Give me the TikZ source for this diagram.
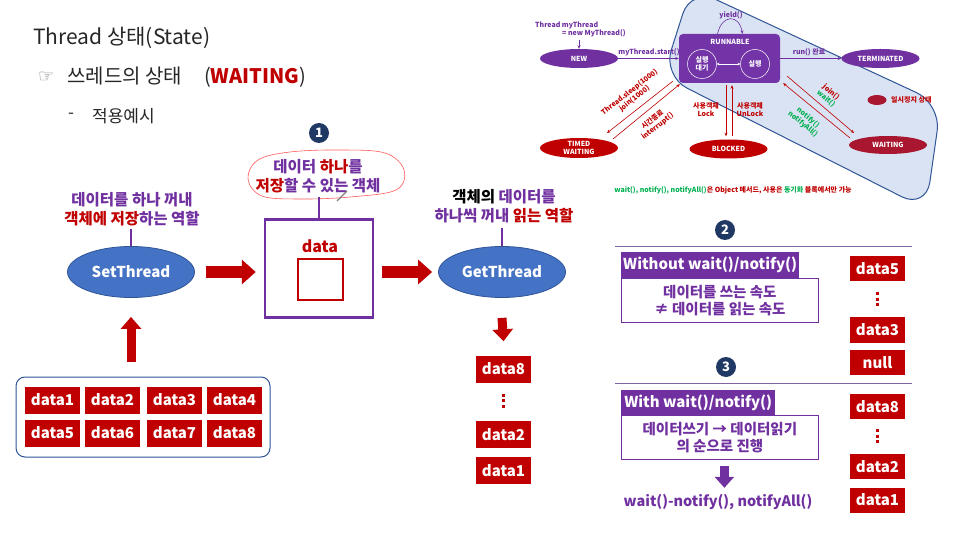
\documentclass[tikz,border=0pt]{standalone}
\usepackage{fontspec}
\setmainfont{Noto Sans CJK KR}
\newfontfamily\symfont{DejaVu Sans}
\usetikzlibrary{arrows.meta,shapes.geometric,calc}
\definecolor{pur}{HTML}{7030A0}
\definecolor{dred}{HTML}{C00000}
\definecolor{navy}{HTML}{203864}
\definecolor{eblue}{HTML}{4472C4}
\definecolor{eblueb}{HTML}{2F5597}
\definecolor{lblue}{HTML}{DAE3F3}
\definecolor{wred}{HTML}{A8172F}
\definecolor{grn}{HTML}{00B050}
\definecolor{tgray}{HTML}{262626}
\definecolor{rulec}{HTML}{8064A2}
\definecolor{runp}{HTML}{7334A8}
\definecolor{pinkline}{HTML}{FF5B5B}
\newcommand\fsz[2]{\fontsize{#1}{#2}\selectfont}
\tikzset{
  badge/.style={circle, fill=navy, text=white, font=\bfseries\fsz{13}{13}, inner sep=0pt, minimum size=20pt},
  cell/.style={fill=dred, text=white, font=\bfseries\fsz{15}{15}, minimum width=55pt, minimum height=27pt, inner sep=0pt},
  rcell/.style={cell, minimum height=25pt},
  thr/.style={ellipse, fill=eblue, draw=eblueb, line width=0.8pt, text=white, font=\bfseries\fsz{15}{15}, minimum width=127pt, minimum height=51pt, inner sep=0pt},
  bigarrow/.style={dred, line width=12.5pt, -{Triangle[length=14pt,width=24pt]}},
  smallarrow/.style={dred, line width=9pt, -{Triangle[length=12pt,width=20pt]}},
  purarrow/.style={pur, line width=9pt, -{Triangle[length=11pt,width=19pt]}},
  lbl/.style={font=\bfseries\fsz{15.5}{19}, align=center, text=pur},
  stem/.style={pur, line width=2.2pt},
  vdot/.style={dred, line width=2.2pt, dash pattern=on 3pt off 2.5pt},
  hdr/.style={fill=pur, text=white, font=\bfseries\fsz{15}{15}, minimum height=26pt, inner sep=0pt, anchor=north west},
  expl/.style={draw=pur, line width=0.8pt, text=pur, font=\bfseries\fsz{14.5}{17.5}, align=center, minimum width=197pt, minimum height=44pt, inner sep=0pt, anchor=north west},
  rulel/.style={rulec, line width=0.8pt},
  st/.style={ellipse, minimum width=78pt, minimum height=19pt, inner sep=0pt, text=white, font=\bfseries\fsz{7}{7.5}, align=center},
  smtxt/.style={font=\bfseries\fsz{7}{8}, align=center, inner sep=1pt},
  sarrow/.style={line width=0.6pt, -{Stealth[length=3.5pt,width=3pt]}},
}
\begin{document}
\begin{tikzpicture}[x=1pt,y=-1pt]
\useasboundingbox (0,0) rectangle (961,537);
\fill[white] (0,0) rectangle (961,537);

% ---------- headings
\node[anchor=west, font=\fsz{21}{24}, text=tgray, inner sep=0] (title) at (33,38) {Thread 상태(State)};
\node[anchor=west, font=\symfont\fsz{18}{20}, text=gray, inner sep=0] (hand) at (38,77) {☞};
\node[anchor=west, font=\fsz{20}{24}, text=tgray, inner sep=0] (sub) at (67,77) {쓰레드의 상태\hspace{1.1em}(\textcolor{dred}{\bfseries WAITING})};
\node[anchor=west, font=\fsz{17}{20}, text=tgray, inner sep=0] (dash) at (68,116) {-};
\node[anchor=west, font=\fsz{17}{20}, text=tgray, inner sep=0] (ex) at (92,116) {적용예시};

% ---------- middle object
\node[badge] (b1) at (319,133) {1};
\node[lbl] (obj) at (318,176) {데이터 \textcolor{dred}{하나}를\\\textcolor{dred}{저장}할 수 있는 객체};
\draw[pinkline, line width=0.6pt] plot[smooth cycle, tension=0.6] coordinates {(248,179) (258,160) (290,152) (340,150) (385,153) (404,170) (396,190) (350,197) (300,199) (262,196)};
\draw[gray, line width=1.3pt] (337,201) -- (347,191);
\node[draw=pur, line width=2.5pt, minimum width=108pt, minimum height=98pt, inner sep=0] (box) at (319,268.5) {};
\node[text=dred, font=\bfseries\fsz{16}{16}] (dlab) at (320,246) {data};
\node[draw=dred, line width=2pt, minimum width=45pt, minimum height=41pt, inner sep=0] (slot) at (320,280) {};
\coordinate (objfoot) at (319,197);
\draw[stem] (box.north |- objfoot) -- (box.north);

% ---------- threads
\node[thr] (set) at (131,272) {SetThread};
\node[thr] (get) at (502,272) {GetThread};
\node[lbl] (setl) at (132,209) {데이터를 하나 꺼내\\\textcolor{dred}{객체에 저장}하는 역할};
\node[lbl] (getl) at (504,206.5) {\textcolor{black}{객체의} 데이터를\\하나씩 꺼내 \textcolor{dred}{읽는 역할}};
\coordinate (setfoot) at (132,229);
\coordinate (getfoot) at (502,228);
\draw[stem] (set.north |- setfoot) -- (set.north);
\draw[stem] (get.north |- getfoot) -- (get.north);
\draw[bigarrow] ($(set.east)+(11,0)$) -- ($(set.east -| box.west)+(-8,0)$);
\draw[bigarrow] ($(get.west -| box.east)+(8,0)$) -- ($(get.west)+(-6,0)$);

% ---------- data pool
\node[draw=eblueb, line width=1pt, rounded corners=9pt, minimum width=254pt, minimum height=80pt, inner sep=0] (pool) at (143,417) {};
\node[cell] (c1) at (52.5,400) {data1};
\node[cell] (c2) at (112.5,400) {data2};
\node[cell] (c3) at (174.5,400) {data3};
\node[cell] (c4) at (234.5,400) {data4};
\node[cell] (c5) at (52.5,433) {data5};
\node[cell] (c6) at (112.5,433) {data6};
\node[cell] (c7) at (174.5,433) {data7};
\node[cell] (c8) at (234.5,433) {data8};
\draw[smallarrow] ($(set.south |- pool.north)+(0,-15)$) -- ($(set.south)+(0,19)$);

% ---------- output of GetThread
\node[cell] (g8) at (503.5,369) {data8};
\node[cell] (g2) at (503.5,434.5) {data2};
\node[cell] (g1) at (503.5,470.5) {data1};
\draw[smallarrow] ($(get.south)+(0,20)$) -- ($(g8.north)+(0,-14)$);
\draw[vdot] ($(g8.south)+(0,11)$) -- ($(g2.north)+(0,-12)$);

% ---------- case 2
\node[badge] (b2) at (725,230) {2};
\coordinate (r2a) at (615,246); \coordinate (r2b) at (912,246);
\draw[rulel] (r2a) -- (r2b);
\node[hdr, minimum width=178pt] (h2) at (621,252) {Without wait()/notify()};
\node[expl] (e2) at (621,278) {데이터를 쓰는 속도\\≠ 데이터를 읽는 속도};
\node[rcell] (r5) at (877.5,268.5) {data5};
\node[rcell] (r3) at (877.5,330) {data3};
\node[rcell] (rn) at (877.5,362.5) {null};
\draw[vdot] ($(r5.south)+(0,11)$) -- ($(r3.north)+(0,-11)$);

% ---------- case 3
\node[badge] (b3) at (726,367) {3};
\coordinate (r3a) at (615,383); \coordinate (r3b) at (912,383);
\draw[rulel] (r3a) -- (r3b);
\node[hdr, minimum width=154pt, minimum height=25pt] (h3) at (621,390) {With wait()/notify()};
\node[expl] (e3) at (621,415) {데이터쓰기 → 데이터읽기\\의 순으로 진행};
\node[text=pur, font=\bfseries\fsz{14.5}{14.5}] (wn) at (718,502) {wait()-notify(), notifyAll()};
\draw[purarrow] ($(e3.south)+(4.5,6)$) -- ($(e3.south)+(4.5,28)$);
\node[rcell] (s8) at (877.5,406.5) {data8};
\node[rcell] (s2) at (877.5,466.5) {data2};
\node[rcell] (s1) at (877.5,500) {data1};
\draw[vdot] ($(s8.south)+(0,10)$) -- ($(s2.north)+(0,-10)$);

% ---------- state diagram
\draw[draw=eblueb, fill=lblue, line width=1pt, rounded corners=27pt] (691,-12) -- (941,104) -- (926,209) -- (663,76) -- cycle;
\node[st, fill=pur] (new) at (579,58.5) {NEW};
\node[st, fill=pur] (term) at (880.5,58.5) {TERMINATED};
\node[st, fill=dred, minimum height=20pt] (timed) at (579,148) {TIMED\\WAITING};
\node[st, fill=dred] (blk) at (728.5,149) {BLOCKED};
\node[st, fill=wred, minimum height=18pt] (wt) at (888,145) {WAITING};
\node[fill=runp, rounded corners=4pt, minimum width=101pt, minimum height=49pt, inner sep=0] (run) at (729.5,58.5) {};
\node[text=white, smtxt] (runl) at (730,42) {RUNNABLE};
\node[circle, draw=white, line width=0.5pt, minimum size=29pt, inner sep=0, text=white, smtxt] (rw) at (702,64) {실행\\대기};
\node[circle, draw=white, line width=0.5pt, minimum size=29pt, inner sep=0, text=white, smtxt] (rx) at (755,64) {실행};
\draw[white, line width=0.4pt, {Stealth[length=2.5pt,width=2.5pt]}-{Stealth[length=2.5pt,width=2.5pt]}] (rw) -- (rx);

\node[anchor=west, text=pur, smtxt] (tm1) at (534,25) {Thread myThread};
\node[anchor=west, text=pur, smtxt] (tm2) at (561,33.5) {= new MyThread()};
\coordinate (tmc) at (579,40);
\draw[pur, sarrow] (tmc) -- (new.north);
\draw[pur, sarrow] (new.east) -- (new.east -| run.west);
\node[text=pur, smtxt] (stl) at (649,52.5) {myThread.start()};
\draw[pur, sarrow] (term.west -| run.east) -- (term.west);
\node[text=pur, smtxt] (rdl) at (809,52.5) {run() 완료};
\draw[pur, sarrow] ($(run.north)+(-12,0)$) .. controls (722,14) and (739,14) .. ($(run.north)+(13,0)$);
\node[text=pur, smtxt] (yl) at (731,15) {yield()};

\draw[dred, sarrow] ($(run.south west)+(-6,-2)$) -- ($(timed)+(28,-15)$);
\draw[dred, sarrow] ($(timed)+(34,-9)$) -- ($(run.south west)+(1,1)$);
\node[text=dred, smtxt, rotate=38] (tsl) at (632,95.5) {Thread.sleep(1000)\\join(1000)};
\node[text=dred, smtxt, rotate=38] (til) at (655,123) {시간종료\\interrupt()};

\draw[dred, sarrow] ($(run.south)+(-3.5,2)$) -- ($(blk.north)+(-2.5,-3)$);
\draw[dred, sarrow] ($(blk.north)+(3.5,-3)$) -- ($(run.south)+(2.5,2)$);
\node[text=dred, smtxt] (lk) at (706,110) {사용객체\\Lock};
\node[text=dred, smtxt] (ul) at (750,110) {사용객체\\UnLock};

\draw[dred, sarrow] ($(run.south east)+(7,-7)$) -- ($(wt)+(-34,-12)$);
\draw[dred, sarrow] ($(wt)+(-38,-7)$) -- ($(run.south east)+(3,0)$);
\node[smtxt, rotate=-40] (jw) at (828.5,95.5) {\textcolor{dred}{join()}\\\textcolor{grn}{wait()}};
\node[smtxt, rotate=-40, text=grn] (nn) at (805.5,121) {notify()\\notifyAll()};

\node[ellipse, fill=wred, minimum width=19pt, minimum height=10pt, inner sep=0] (lg) at (877,100) {};
\node[anchor=west, text=dred, smtxt] (lgl) at (890,100) {일시정지 상태};
\node[text=dred, smtxt] (fn) at (733,190) {\textcolor{grn}{wait(), notify(), notifyAll()}은 Object 메서드, 사용은 \textcolor{grn}{동기화} 블록에서만 가능};
\end{tikzpicture}
\end{document}
